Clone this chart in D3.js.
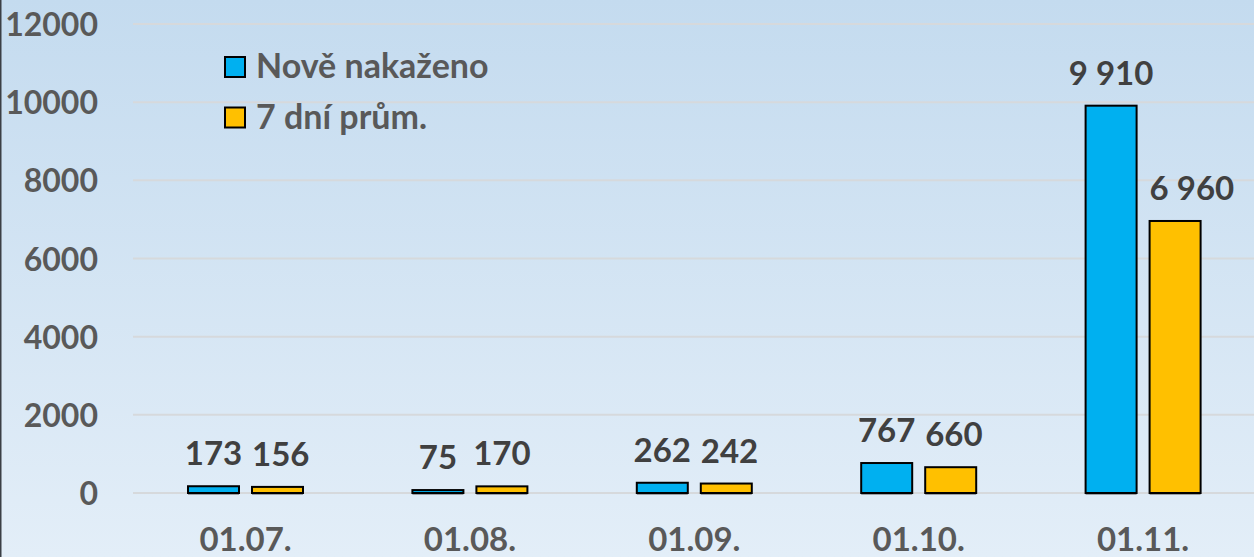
<!DOCTYPE html>
<html><head><meta charset="utf-8">
<script src="https://cdn.jsdelivr.net/npm/d3@7"></script>
<style>
html,body{margin:0;padding:0;overflow:hidden;}
svg{display:block;}
text{font-family:Lato,"Open Sans",sans-serif;font-weight:bold;}
</style></head>
<body>
<svg id="chart" width="1254" height="557"></svg>
<script>
const categories = ["01.07.", "01.08.", "01.09.", "01.10.", "01.11."];
const seriesNames = ["Nově nakaženo", "7 dní prům."];
const noveNakazeno = [173, 75, 262, 767, 9910];
const sedmiDenniPrumer = [156, 170, 242, 660, 6960];
const yTicks = [0, 2000, 4000, 6000, 8000, 10000, 12000];
const colors = ["#00B0F0", "#FFC000"];

const W = 1254, H = 557;
const svg = d3.select("#chart");

const defs = svg.append("defs");
const grad = defs.append("linearGradient").attr("id","bg").attr("x1",0).attr("y1",0).attr("x2",0).attr("y2",1);
grad.append("stop").attr("offset","0%").attr("stop-color","#C4DBEF");
grad.append("stop").attr("offset","100%").attr("stop-color","#E3EEF8");
svg.append("rect").attr("width",W).attr("height",H).attr("fill","url(#bg)");
svg.append("line").attr("x1",0.75).attr("x2",0.75).attr("y1",0).attr("y2",H).attr("stroke","#3b3f45").attr("stroke-width",1.5);

const x0 = d3.scaleBand().domain(categories).range([133.3, 1255.3]).paddingInner(0).paddingOuter(0);
const y = d3.scaleLinear().domain([0, 12000]).range([493, 24]);

// gridlines
svg.append("g").selectAll("line").data(yTicks).join("line")
  .attr("x1", 133).attr("x2", W)
  .attr("y1", d => y(d)).attr("y2", d => y(d))
  .attr("stroke", "#D6D9DC").attr("stroke-width", 2);

// y axis labels
const yAxis = d3.axisLeft(y).tickValues(yTicks).tickFormat(d3.format("d")).tickSize(0).tickPadding(0);
const gy = svg.append("g").attr("transform","translate(98,0)").call(yAxis);
gy.select(".domain").remove();
gy.selectAll("text").attr("font-size",32).attr("fill","#595959")
  .attr("font-family","Lato").attr("font-weight","bold").attr("dy","0.36em");

// category labels
const xAxis = d3.axisBottom(x0).tickSize(0).tickPadding(0);
const gx = svg.append("g").attr("transform","translate(0,551)").call(xAxis);
gx.select(".domain").remove();
gx.selectAll("text").attr("font-size",33).attr("fill","#595959")
  .attr("font-family","Lato").attr("font-weight","bold").attr("dy",0).attr("y",0);

// bars
const barW = 51, gap = 13;
const x1 = d3.scaleOrdinal().domain([0,1]).range([-(gap/2 + barW), gap/2]);
const data = categories.map((c,i) => ({c, vals:[noveNakazeno[i], sedmiDenniPrumer[i]]}));
const fmt = v => d3.format(",")(v).replace(/,/g, " ");

data.forEach(d => {
  const cx = x0(d.c) + x0.bandwidth()/2;
  d.vals.forEach((v, s) => {
    const bx = cx + x1(s);
    svg.append("line").attr("x1",bx).attr("x2",bx+barW).attr("y1",y(0)+1.5).attr("y2",y(0)+1.5)
      .attr("stroke","#9aa0a6").attr("stroke-width",1);
    svg.append("rect").attr("x", bx).attr("y", y(v)).attr("width", barW).attr("height", y(0) - y(v))
      .attr("fill", colors[s]).attr("stroke", "#000").attr("stroke-width", 2);
    const t = svg.append("text").attr("x", bx + barW/2).attr("y", y(v) - 21)
      .attr("text-anchor","middle").attr("font-size",33).attr("fill","#404040").text(fmt(v));
    // avoid overlapping the taller neighbouring bar
    if (s === 1 && d.vals[0] > v) {
      const w = t.node().getComputedTextLength();
      const leftEdge = bx + barW/2 - w/2;
      if (leftEdge < bx) t.attr("text-anchor","start").attr("x", bx);
    }
  });
});

// legend
const leg = svg.append("g");
seriesNames.forEach((n, i) => {
  const ly = 57 + i*50.5;
  leg.append("rect").attr("x",225).attr("y",ly).attr("width",20).attr("height",20)
    .attr("fill",colors[i]).attr("stroke","#000").attr("stroke-width",2);
  leg.append("text").attr("x",256).attr("y",ly+21).attr("font-size",34).attr("fill","#595959").text(n);
});
</script>
</body></html>
